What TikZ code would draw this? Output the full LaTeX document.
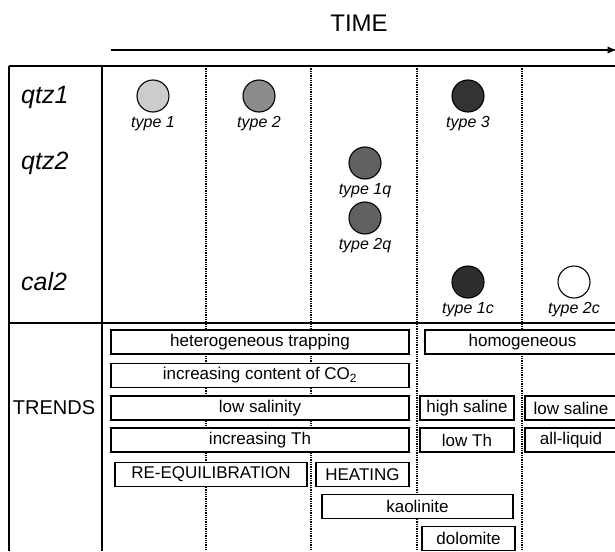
\documentclass[tikz,border=0pt]{standalone}
\usepackage{fontspec}
\setmainfont{Liberation Sans}
\usetikzlibrary{positioning}

\begin{document}
\begin{tikzpicture}[x=1pt, y=-1pt,
        incl/.style = {draw, circle, line width=1.1pt, minimum size=32pt, inner sep=0pt},
        typelbl/.style = {inner sep=0pt, font=\fontsize{16}{18}\selectfont\itshape},
        mineral/.style = {anchor=west, inner sep=0pt, font=\fontsize{25}{29}\selectfont\itshape},
        trend/.style = {draw, fill=white, line width=1.3pt, minimum height=24pt, inner sep=0pt, font=\fontsize{17}{20}\selectfont},
        stage/.style = {densely dotted, line width=1.3pt},
        frame/.style = {line width=1.6pt}]

    \useasboundingbox (0,0) rectangle (615,551);
    \clip (0,0) rectangle (615,551);

    % time axis
    \node[inner sep=0pt, font=\fontsize{24}{28}\selectfont] (time) at (359,23) {TIME};
    \coordinate (t0) at (111,50);
    \coordinate (t1) at (617,50);
    \draw[line width=2.2pt, -latex] (t0) -- (t1);

    % table frame
    \draw[frame] (9,66) -- (615,66);
    \draw[frame] (9,323) -- (615,323);
    \draw[frame] (9,66) -- (9,551);
    \draw[frame] (102,66) -- (102,551);
    \foreach \x in {206,311,417,522}
        \draw[stage] (\x,66) -- (\x,551);

    % minerals
    \node[mineral] (qtz1) at (21,97) {qtz1};
    \node[mineral] (qtz2) at (21,163) {qtz2};
    \node[mineral] (cal2) at (21,282) {cal2};

    % inclusion types
    \node[incl, fill=black!20] (c1) at (153,96) {};
    \node[incl, fill=black!45] (c2) at (259,96) {};
    \node[incl, fill=black!80] (c3) at (468,96) {};
    \node[incl, fill=black!62] (c1q) at (365,163) {};
    \node[incl, fill=black!62] (c2q) at (365,218) {};
    \node[incl, fill=black!82] (c1c) at (468,282) {};
    \node[incl, fill=white] (c2c) at (574,282) {};

    \node[typelbl, below=4pt of c1] (l1) {type 1};
    \node[typelbl, below=4pt of c2] (l2) {type 2};
    \node[typelbl, below=4pt of c3] (l3) {type 3};
    \node[typelbl, below=4pt of c1q] (l1q) {type 1q};
    \node[typelbl, below=4pt of c2q] (l2q) {type 2q};
    \node[typelbl, below=4pt of c1c] (l1c) {type 1c};
    \node[typelbl, below=4pt of c2c] (l2c) {type 2c};

    % trends
    \node[inner sep=0pt, font=\fontsize{20}{24}\selectfont] (trends) at (54,408) {TRENDS};

    \node[trend, minimum width=298pt] (het) at (260,342) {heterogeneous trapping};
    \node[trend, minimum width=195pt] (hom) at (522.5,342) {homogeneous};
    \node[trend, minimum width=298pt] (co2) at (260,375.5) {increasing content of CO\textsubscript{2}};
    \node[trend, minimum width=298pt] (lsal) at (260,408) {low salinity};
    \node[trend, minimum width=94pt] (hsal) at (467,408) {high saline};
    \node[trend, minimum width=92pt] (lsaline) at (571,408) {low saline};
    \node[trend, minimum width=298pt] (incth) at (260,440) {increasing Th};
    \node[trend, minimum width=94pt] (lth) at (467,440) {low Th};
    \node[trend, minimum width=92pt] (liq) at (571,440) {all-liquid};
    \node[trend, minimum width=192pt] (reeq) at (211,474.5) {RE-EQUILIBRATION};
    \node[trend, minimum width=93pt] (heat) at (362.5,474.5) {HEATING};
    \node[trend, minimum width=191pt] (kaol) at (417.5,506.5) {kaolinite};
    \node[trend, minimum width=93pt] (dol) at (468.5,538.5) {dolomite};

\end{tikzpicture}
\end{document}
